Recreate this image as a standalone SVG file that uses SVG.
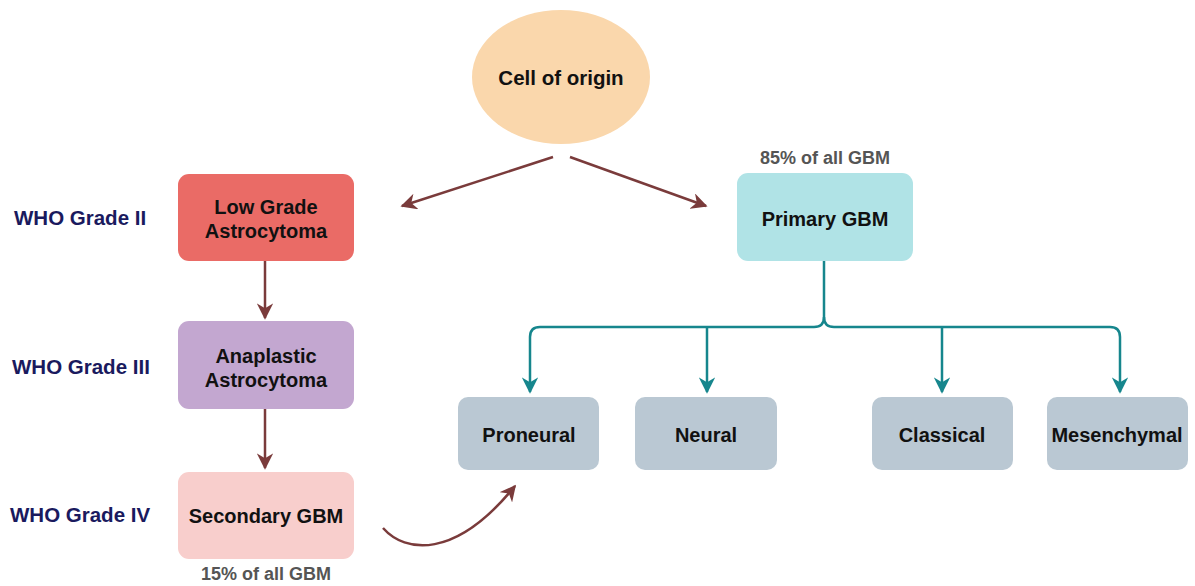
<svg xmlns="http://www.w3.org/2000/svg" width="1195" height="586" viewBox="0 0 1195 586">
<defs>
<style>
.lbl{font-family:"Liberation Sans",Arial,sans-serif;font-weight:bold;font-size:20px;fill:#111;text-anchor:middle}
.who{font-family:"Liberation Sans",Arial,sans-serif;font-weight:bold;font-size:20.5px;fill:#1a1a5e}
.pct{font-family:"Liberation Sans",Arial,sans-serif;font-weight:bold;font-size:18px;fill:#555;text-anchor:middle}
.br{fill:none;stroke:#7a3b3b;stroke-width:2.5}
.tl{fill:none;stroke:#16868d;stroke-width:2.5}
</style>
<marker id="ab" viewBox="0 0 10 10" refX="9" refY="5" markerWidth="6.5" markerHeight="6.5" markerUnits="strokeWidth" orient="auto">
<path d="M0,0 L10,5 L0,10 L3,5 Z" fill="#7a3b3b"/>
</marker>
<marker id="at" viewBox="0 0 10 10" refX="9" refY="5" markerWidth="6.5" markerHeight="6.5" markerUnits="strokeWidth" orient="auto">
<path d="M0,0 L10,5 L0,10 L3,5 Z" fill="#16868d"/>
</marker>
</defs>
<rect width="1195" height="586" fill="#fff"/>
<g id="connectors">
<path class="br" d="M553,157 L402,206" marker-end="url(#ab)"/>
<path class="br" d="M570,157 L706,206" marker-end="url(#ab)"/>
<path class="br" d="M265,261 L265,318" marker-end="url(#ab)"/>
<path class="br" d="M265,409 L265,468" marker-end="url(#ab)"/>
<path class="br" d="M383,528 C405,553 455,560 515,486" marker-end="url(#ab)"/>
<path class="tl" d="M824,261 L824,317 Q824,327 814,327 L540,327 Q530,327 530,337 L530,392" marker-end="url(#at)"/>
<path class="tl" d="M824,317 Q824,327 834,327 L1110,327 Q1120,327 1120,337 L1120,392" marker-end="url(#at)"/>
<path class="tl" d="M707,327 L707,392" marker-end="url(#at)"/>
<path class="tl" d="M942,327 L942,392" marker-end="url(#at)"/>
</g>
<g id="cell-of-origin">
<ellipse cx="561" cy="77" rx="89" ry="67" fill="#fad7ac"/>
<text class="lbl" x="561" y="85" style="font-size:20.5px">Cell of origin</text>
</g>
<g id="who-labels">
<text class="who" x="14" y="225">WHO Grade II</text>
<text class="who" x="12" y="374">WHO Grade III</text>
<text class="who" x="10" y="522">WHO Grade IV</text>
</g>
<g id="low-grade">
<rect x="178" y="174" width="176" height="87" rx="11" fill="#ea6b66"/>
<text class="lbl" x="266" y="214">Low Grade</text>
<text class="lbl" x="266" y="238">Astrocytoma</text>
</g>
<g id="anaplastic">
<rect x="178" y="321" width="176" height="88" rx="11" fill="#c3a7d0"/>
<text class="lbl" x="266" y="363">Anaplastic</text>
<text class="lbl" x="266" y="387">Astrocytoma</text>
</g>
<g id="secondary-gbm">
<rect x="178" y="472" width="176" height="87" rx="11" fill="#f8cecc"/>
<text class="lbl" x="266" y="523">Secondary GBM</text>
<text class="pct" x="266" y="580">15% of all GBM</text>
</g>
<g id="primary-gbm">
<rect x="737" y="173" width="176" height="88" rx="11" fill="#b0e3e6"/>
<text class="lbl" x="825" y="226">Primary GBM</text>
<text class="pct" x="825" y="164">85% of all GBM</text>
</g>
<g id="proneural">
<rect x="458" y="397" width="141" height="73" rx="10" fill="#bac8d3"/>
<text class="lbl" x="529" y="442">Proneural</text>
</g>
<g id="neural">
<rect x="635" y="397" width="142" height="73" rx="10" fill="#bac8d3"/>
<text class="lbl" x="706" y="442">Neural</text>
</g>
<g id="classical">
<rect x="872" y="397" width="141" height="73" rx="10" fill="#bac8d3"/>
<text class="lbl" x="942" y="442">Classical</text>
</g>
<g id="mesenchymal">
<rect x="1047" y="397" width="141" height="73" rx="10" fill="#bac8d3"/>
<text class="lbl" x="1117" y="442">Mesenchymal</text>
</g>
</svg>
